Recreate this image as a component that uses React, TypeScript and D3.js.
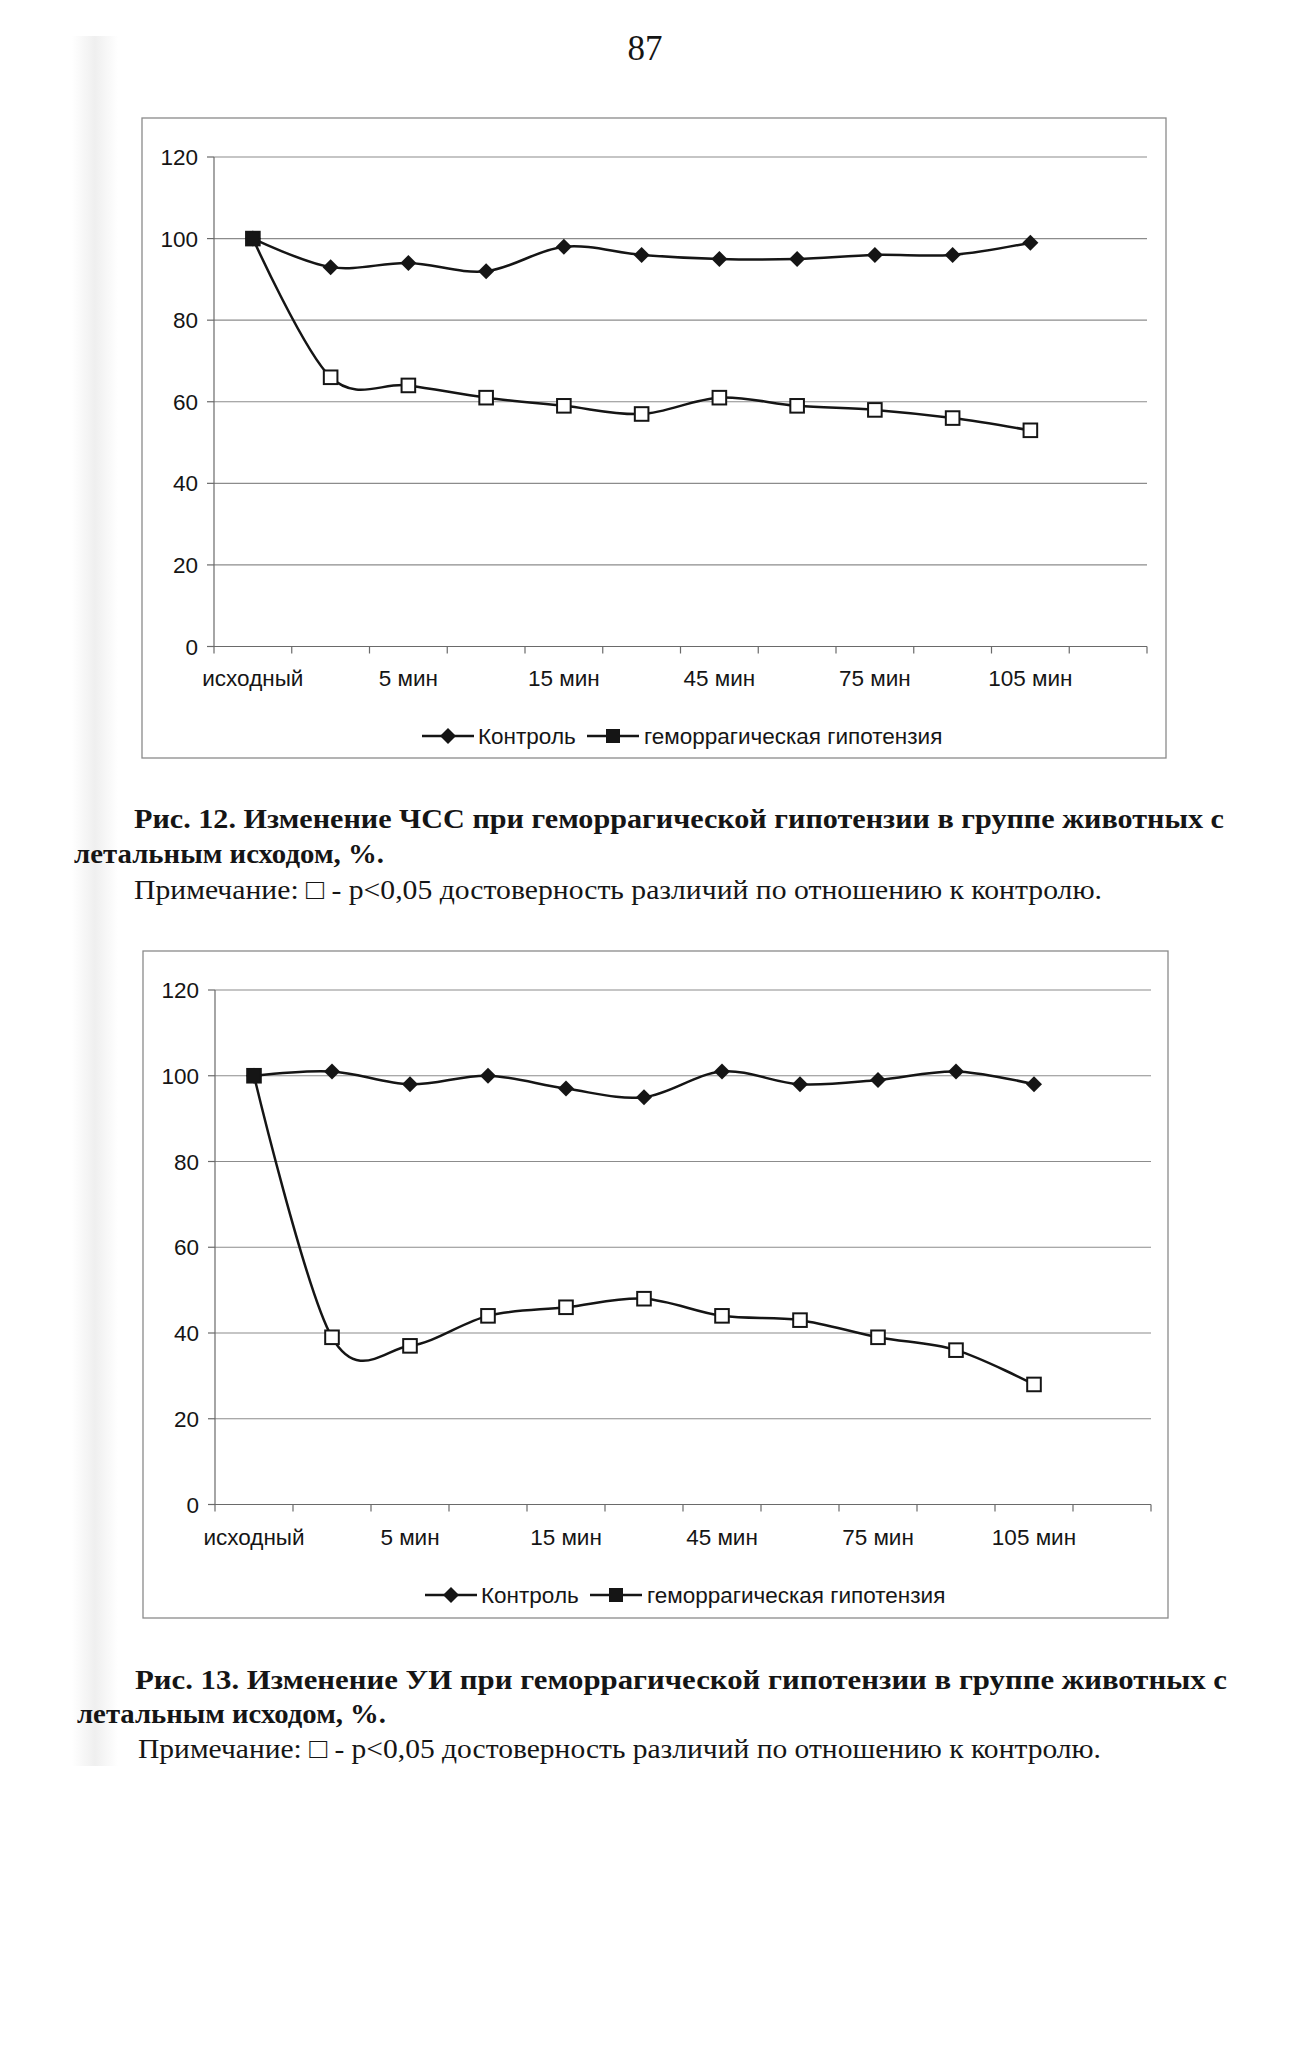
import React from "react";
import * as d3 from "d3";

// ---- Data ----
const xSlots = ["исходный", "", "5 мин", "", "15 мин", "", "45 мин", "", "75 мин", "", "105 мин", ""];
const yTicks = [0, 20, 40, 60, 80, 100, 120];
const legendLabels = ["Контроль", "геморрагическая гипотензия"];

// Fig. 12 — heart rate (ЧСС), %
const hrControl = [100, 93, 94, 92, 98, 96, 95, 95, 96, 96, 99];
const hrHemorrhage = [100, 66, 64, 61, 59, 57, 61, 59, 58, 56, 53];

// Fig. 13 — stroke index (УИ), %
const siControl = [100, 101, 98, 100, 97, 95, 101, 98, 99, 101, 98];
const siHemorrhage = [100, 39, 37, 44, 46, 48, 44, 43, 39, 36, 28];

const caption12 = [
  "Рис. 12. Изменение ЧСС при геморрагической гипотензии в группе животных с",
  "летальным исходом, %.",
];
const caption13 = [
  "Рис. 13. Изменение УИ при геморрагической гипотензии в группе животных с",
  "летальным исходом, %.",
];
const noteText = "Примечание: \u25A1 - p<0,05 достоверность различий по отношению к контролю.";
const pageNumber = "87";

const SANS = "'Liberation Sans', Arial, sans-serif";
const SERIF = "'Liberation Serif', 'Times New Roman', serif";
const FS = 22.5;

type ChartProps = {
  control: number[];
  hemorrhage: number[];
  box: { x: number; y: number; w: number; h: number };
  plot: { x0: number; x1: number; yTop: number; yBottom: number };
  labelBaseline: number;
  legendY: number;
  legendX: number;
};

function Chart({ control, hemorrhage, box, plot, labelBaseline, legendY, legendX }: ChartProps) {
  const x = d3
    .scaleBand<number>()
    .domain(xSlots.map((_, i) => i))
    .range([plot.x0, plot.x1])
    .padding(0);
  const y = d3.scaleLinear().domain([0, 120]).range([plot.yBottom, plot.yTop]);
  const cx = (i: number) => (x(i) as number) + x.bandwidth() / 2;
  const line = d3
    .line<number>()
    .x((_, i) => cx(i))
    .y((d) => y(d))
    .curve(d3.curveCardinal.tension(0));

  const boundaries = d3.range(xSlots.length + 1).map((i) =>
    i < xSlots.length ? (x(i) as number) : plot.x1
  );
  const dia = 8;
  const sq = 6.8;
  const gridColor = "#8c8c8c";
  const ink = "#151515";
  const txt = "#151515";

  return (
    <g>
      <rect x={box.x} y={box.y} width={box.w} height={box.h} fill="#fff" stroke="#8a8a8a" strokeWidth={1.3} />
      {yTicks.map((t) => (
        <line key={"g" + t} x1={plot.x0} x2={plot.x1} y1={y(t)} y2={y(t)} stroke={gridColor} strokeWidth={1.2} />
      ))}
      <line x1={plot.x0} x2={plot.x0} y1={plot.yTop} y2={plot.yBottom} stroke="#6a6a6a" strokeWidth={1.2} />
      {yTicks.map((t) => (
        <g key={"yt" + t}>
          <line x1={plot.x0 - 7} x2={plot.x0} y1={y(t)} y2={y(t)} stroke="#6a6a6a" strokeWidth={1.2} />
          <text x={plot.x0 - 16} y={y(t) + 8} textAnchor="end" fontFamily={SANS} fontSize={FS} fill={txt}>
            {t}
          </text>
        </g>
      ))}
      <line x1={plot.x0} x2={plot.x1} y1={plot.yBottom} y2={plot.yBottom} stroke="#6a6a6a" strokeWidth={1.2} />
      {boundaries.map((bx, i) => (
        <line key={"xt" + i} x1={bx} x2={bx} y1={plot.yBottom} y2={plot.yBottom + 7} stroke="#6a6a6a" strokeWidth={1.2} />
      ))}
      {xSlots.map((lab, i) =>
        lab ? (
          <text key={"xl" + i} x={cx(i)} y={labelBaseline} textAnchor="middle" fontFamily={SANS} fontSize={FS} fill={txt}>
            {lab}
          </text>
        ) : null
      )}
      <path d={line(control) || ""} fill="none" stroke={ink} strokeWidth={2.5} />
      <path d={line(hemorrhage) || ""} fill="none" stroke={ink} strokeWidth={2.5} />
      {control.map((v, i) => (
        <path
          key={"c" + i}
          d={`M${cx(i)},${y(v) - dia}L${cx(i) + dia},${y(v)}L${cx(i)},${y(v) + dia}L${cx(i) - dia},${y(v)}Z`}
          fill={ink}
        />
      ))}
      {hemorrhage.map((v, i) => (
        <rect
          key={"h" + i}
          x={cx(i) - sq}
          y={y(v) - sq}
          width={sq * 2}
          height={sq * 2}
          fill={i === 0 ? ink : "#fff"}
          stroke={ink}
          strokeWidth={2}
        />
      ))}
      <g>
        <line x1={legendX} x2={legendX + 52} y1={legendY} y2={legendY} stroke={ink} strokeWidth={2.4} />
        <path
          d={`M${legendX + 26},${legendY - 8}L${legendX + 34},${legendY}L${legendX + 26},${legendY + 8}L${legendX + 18},${legendY}Z`}
          fill={ink}
        />
        <text x={legendX + 56} y={legendY + 8} fontFamily={SANS} fontSize={FS} fill={txt}>
          {legendLabels[0]}
        </text>
        <line x1={legendX + 165} x2={legendX + 217} y1={legendY} y2={legendY} stroke={ink} strokeWidth={2.4} />
        <rect x={legendX + 184} y={legendY - 7} width={14} height={14} fill={ink} />
        <text x={legendX + 222} y={legendY + 8} fontFamily={SANS} fontSize={FS} fill={txt}>
          {legendLabels[1]}
        </text>
      </g>
    </g>
  );
}

function Caption({ lines, note, y1, y2, y3, x1, x2, x3, w1, w2, w3 }: any) {
  return (
    <g fontFamily={SERIF} fill="#151515">
      <text x={x1} y={y1} fontSize={28} fontWeight="bold" textLength={w1} lengthAdjust="spacingAndGlyphs">
        {lines[0]}
      </text>
      <text x={x2} y={y2} fontSize={28} fontWeight="bold" textLength={w2} lengthAdjust="spacingAndGlyphs">
        {lines[1]}
      </text>
      <text x={x3} y={y3} fontSize={28} textLength={w3} lengthAdjust="spacingAndGlyphs">
        {note}
      </text>
    </g>
  );
}

export default function App() {
  return (
    <svg
      width={1305}
      height={2050}
      viewBox="0 0 1305 2050"
      style={{ position: "absolute", left: 0, top: 0, background: "#fff" }}
    >
      <defs>
        <linearGradient id="strip" x1="0" x2="1" y1="0" y2="0">
          <stop offset="0" stopColor="#ffffff" />
          <stop offset="0.5" stopColor="#efefef" />
          <stop offset="1" stopColor="#ffffff" />
        </linearGradient>
      </defs>
      <rect x={0} y={0} width={1305} height={2050} fill="#fff" />
      <rect x={72} y={36} width={46} height={1730} fill="url(#strip)" />
      <text x={645} y={60} textAnchor="middle" fontFamily={SERIF} fontSize={35} fill="#151515">
        {pageNumber}
      </text>
      <Chart
        control={hrControl}
        hemorrhage={hrHemorrhage}
        box={{ x: 142, y: 118, w: 1024, h: 640 }}
        plot={{ x0: 214, x1: 1147, yTop: 157, yBottom: 646.5 }}
        labelBaseline={686}
        legendY={736}
        legendX={422}
      />
      <Caption
        lines={caption12}
        note={noteText}
        x1={134}
        y1={828}
        w1={1090}
        x2={74}
        y2={863}
        w2={310}
        x3={134}
        y3={899}
        w3={968}
      />
      <Chart
        control={siControl}
        hemorrhage={siHemorrhage}
        box={{ x: 143, y: 951, w: 1025, h: 667 }}
        plot={{ x0: 215, x1: 1151, yTop: 990, yBottom: 1504.5 }}
        labelBaseline={1545}
        legendY={1595}
        legendX={425}
      />
      <Caption
        lines={caption13}
        note={noteText}
        x1={135}
        y1={1689}
        w1={1092}
        x2={77}
        y2={1723}
        w2={309}
        x3={138}
        y3={1758}
        w3={963}
      />
    </svg>
  );
}
